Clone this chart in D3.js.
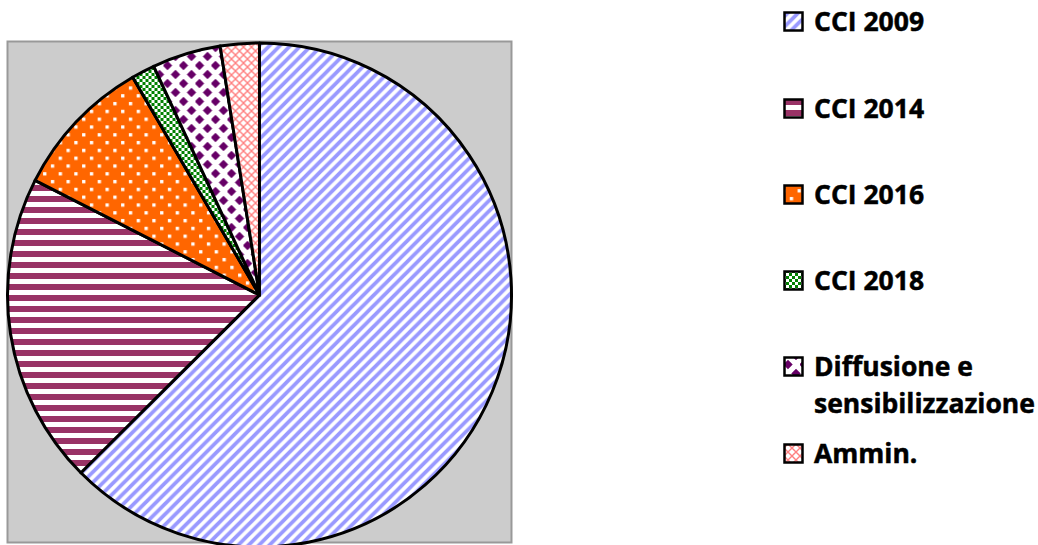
<!DOCTYPE html>
<html>
<head>
<meta charset="utf-8">
<script src="https://cdn.jsdelivr.net/npm/d3@7/dist/d3.min.js"></script>
<style>
  html, body { margin: 0; padding: 0; background: #ffffff; }
  svg { display: block; }
  .legend text { font-family: "Open Sans", "Noto Sans", sans-serif; font-weight: bold; font-size: 26.5px; fill: #000; stroke: #000; stroke-width: 0.5px; }
</style>
</head>
<body>
<svg id="chart" width="1038" height="545"></svg>
<script>
// ---- data ----
const categories = ["CCI 2009", "CCI 2014", "CCI 2016", "CCI 2018", "Diffusione e sensibilizzazione", "Ammin."];
const values = [62.6, 20.0, 9.1, 1.5, 4.4, 2.5];
const legendLines = [["CCI 2009"], ["CCI 2014"], ["CCI 2016"], ["CCI 2018"], ["Diffusione e", "sensibilizzazione"], ["Ammin."]];
const patternIds = ["p2009", "p2014", "p2016", "p2018", "pdiff", "pamm"];

const svg = d3.select("#chart");
const defs = svg.append("defs");

// pattern: upward diagonal stripes (blue)
const p1 = defs.append("pattern").attr("id", "p2009").attr("patternUnits", "userSpaceOnUse")
  .attr("width", 10.4).attr("height", 10.4);
p1.append("rect").attr("width", 10.4).attr("height", 10.4).attr("fill", "#ffffff");
p1.append("path").attr("d", "M-3,3 L3,-3 M0,10.4 L10.4,0 M7.4,13.4 L13.4,7.4")
  .attr("stroke", "#9999ff").attr("stroke-width", 3.8);

// pattern: horizontal stripes (magenta)
const p2 = defs.append("pattern").attr("id", "p2014").attr("patternUnits", "userSpaceOnUse")
  .attr("width", 11).attr("height", 11);
p2.append("rect").attr("width", 11).attr("height", 11).attr("fill", "#ffffff");
p2.append("rect").attr("y", 0).attr("width", 11).attr("height", 6).attr("fill", "#993366");

// pattern: orange with white dots
const p3 = defs.append("pattern").attr("id", "p2016").attr("patternUnits", "userSpaceOnUse")
  .attr("width", 15.6).attr("height", 15.6);
p3.append("rect").attr("width", 15.6).attr("height", 15.6).attr("fill", "#ff6600");
p3.append("rect").attr("x", 2).attr("y", 2).attr("width", 3.3).attr("height", 3.3).attr("fill", "#ffffff");
p3.append("rect").attr("x", 9.8).attr("y", 9.8).attr("width", 3.3).attr("height", 3.3).attr("fill", "#ffffff");

// pattern: green checkerboard
const p4 = defs.append("pattern").attr("id", "p2018").attr("patternUnits", "userSpaceOnUse")
  .attr("width", 6).attr("height", 6);
p4.append("rect").attr("width", 6).attr("height", 6).attr("fill", "#ffffff");
p4.append("rect").attr("width", 3).attr("height", 3).attr("fill", "#008000");
p4.append("rect").attr("x", 3).attr("y", 3).attr("width", 3).attr("height", 3).attr("fill", "#008000");

// pattern: purple diamonds (staggered)
const TW = 16, TH = 18, DR = 4.7;
const p5 = defs.append("pattern").attr("id", "pdiff").attr("patternUnits", "userSpaceOnUse")
  .attr("width", TW).attr("height", TH);
p5.append("rect").attr("width", TW).attr("height", TH).attr("fill", "#ffffff");
const dia = (x, y, r) => `M${x},${y - r} L${x + r},${y} L${x},${y + r} L${x - r},${y} Z`;
const dpts = [[4, 4.5], [12, 13.5], [12, -4.5], [-4, 13.5], [20, 13.5], [12, 22.5], [-4, 4.5 + TH], [4, 4.5 + TH]];
p5.append("path").attr("d", dpts.map(p => dia(p[0], p[1], DR)).join(" ")).attr("fill", "#660066");

// pattern: pink lattice
const p6 = defs.append("pattern").attr("id", "pamm").attr("patternUnits", "userSpaceOnUse")
  .attr("width", 8).attr("height", 8);
p6.append("rect").attr("width", 8).attr("height", 8).attr("fill", "#ffffff");
p6.append("path").attr("d", "M0,0 L8,8 M8,0 L0,8").attr("stroke", "#ff8080").attr("stroke-width", 1.4);

// ---- plot area ----
svg.append("rect").attr("x", 7.5).attr("y", 41.5).attr("width", 504).attr("height", 501)
  .attr("fill", "#cccccc").attr("stroke", "#999999").attr("stroke-width", 2);

// ---- pie ----
const cx = 259.5, cy = 295, r = 252;
const pie = d3.pie().sort(null).value(d => d)(values);
const arc = d3.arc().innerRadius(0).outerRadius(r);
const g = svg.append("g").attr("transform", `translate(${cx},${cy})`);
g.selectAll("path.slice").data(pie).join("path")
  .attr("class", "slice")
  .attr("d", arc)
  .attr("fill", (d, i) => `url(#${patternIds[i]})`)
  .attr("stroke", "#000000")
  .attr("stroke-width", 3)
  .attr("stroke-linejoin", "round");

// ---- legend ----
const legendY = [12, 99, 185, 271, 357, 444];
const leg = svg.append("g").attr("class", "legend");
categories.forEach((c, i) => {
  const y = legendY[i];
  leg.append("rect").attr("x", 784.5).attr("y", y + 0.5).attr("width", 18).attr("height", 18)
    .attr("fill", `url(#${patternIds[i]})`).attr("stroke", "#000").attr("stroke-width", 2.5);
  const t = leg.append("text").attr("x", 814).attr("y", y + 18.5);
  legendLines[i].forEach((line, j) => {
    t.append("tspan").attr("x", 814).attr("dy", j === 0 ? 0 : 37).text(line);
  });
});
</script>
</body>
</html>
